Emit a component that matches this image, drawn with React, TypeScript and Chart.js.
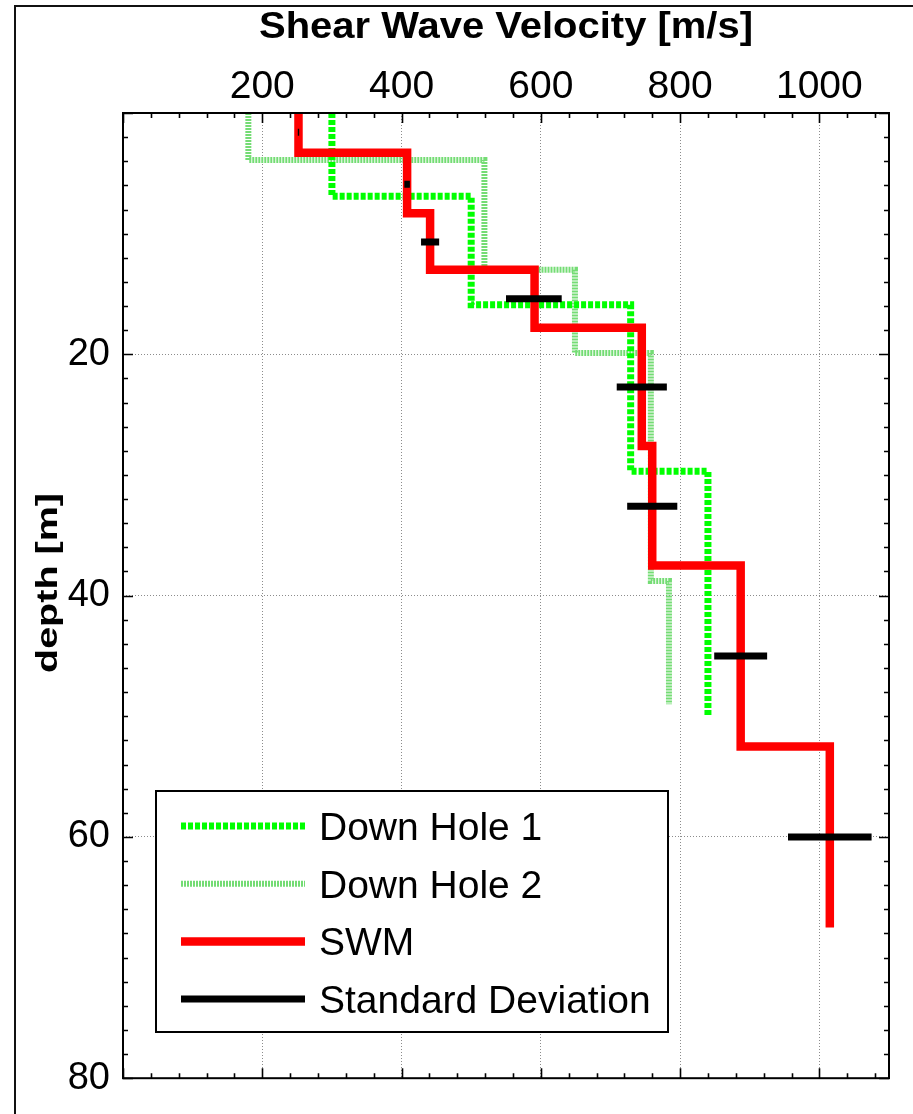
import React, { useEffect, useRef } from "react";
import { Chart, registerables } from "chart.js";

Chart.register(...registerables);

// ---------------- data ----------------
const dh1Velocity = [300, 500, 729, 840];
const dh1Bounds = [0, 6.9, 15.9, 29.7, 50];

const dh2Velocity = [180, 519, 649, 758, 784];
const dh2Bounds = [0, 3.9, 13.0, 19.9, 38.8, 49];

const swmVelocity = [252, 408, 441, 591, 745, 760, 887, 1015];
const swmBounds = [0, 3.3, 8.3, 13.0, 17.8, 27.6, 37.5, 52.5, 67.5];

const sdDepth = [1.6, 5.9, 10.7, 15.4, 22.7, 32.6, 45, 60];
const sdMean = [252, 408, 441, 590, 745, 760, 887, 1015];
const sdDev = [1, 4, 13, 40, 36, 36, 38, 60];

const xTickValues = [200, 400, 600, 800, 1000];
const yTickValues = [20, 40, 60, 80];
const seriesLabels = ["Down Hole 1", "Down Hole 2", "SWM", "Standard Deviation"];
const xTitle = "Shear Wave Velocity [m/s]";
const yTitle = "depth [m]";

const FONT = "'Liberation Sans', Arial, Helvetica, sans-serif";

function steps(vel: number[], bounds: number[]) {
  const pts: { x: number; y: number }[] = [];
  vel.forEach((v, i) => {
    pts.push({ x: v, y: bounds[i] });
    pts.push({ x: v, y: bounds[i + 1] });
  });
  return pts;
}

function sdSegments() {
  const pts: { x: number; y: number | null }[] = [];
  sdDepth.forEach((d, i) => {
    pts.push({ x: sdMean[i] - sdDev[i], y: d });
    pts.push({ x: sdMean[i] + sdDev[i], y: d });
    pts.push({ x: sdMean[i], y: null });
  });
  return pts;
}

// ---------------- plugins ----------------
const decorPlugin = {
  id: "decor",
  afterDatasetsDraw(chart: any) {
    const { ctx, chartArea: a } = chart;
    const xs = chart.scales.x;
    const ys = chart.scales.y;
    ctx.save();
    ctx.strokeStyle = "#000";
    ctx.lineWidth = 1.6;
    ctx.setLineDash([]);
    ctx.beginPath();
    for (let v = 0; v <= 1100; v += 40) {
      const px = Math.round(xs.getPixelForValue(v)) + 0.5;
      const len = v % 200 === 0 ? 10 : 5;
      ctx.moveTo(px, a.top);
      ctx.lineTo(px, a.top + len);
      ctx.moveTo(px, a.bottom);
      ctx.lineTo(px, a.bottom - len);
    }
    for (let v = 0; v <= 80; v += 2) {
      const py = Math.round(ys.getPixelForValue(v)) + 0.5;
      const len = v % 20 === 0 ? 10 : 5;
      ctx.moveTo(a.left, py);
      ctx.lineTo(a.left + len, py);
      ctx.moveTo(a.right, py);
      ctx.lineTo(a.right - len, py);
    }
    ctx.stroke();
    ctx.lineWidth = 2;
    ctx.strokeRect(a.left, a.top, a.right - a.left, a.bottom - a.top);
    ctx.restore();
  },
  afterDraw(chart: any) {
    const { ctx, chartArea: a } = chart;
    ctx.save();
    // figure frame
    ctx.strokeStyle = "#111";
    ctx.lineWidth = 2;
    ctx.beginPath();
    ctx.moveTo(15, chart.height);
    ctx.lineTo(15, 6);
    ctx.lineTo(chart.width, 6);
    ctx.stroke();

    // top title
    ctx.fillStyle = "#000";
    ctx.font = `bold 37px ${FONT}`;
    ctx.textAlign = "center";
    ctx.textBaseline = "alphabetic";
    const tw = ctx.measureText(xTitle).width;
    const sx = 494 / tw;
    ctx.save();
    ctx.translate((a.left + a.right) / 2, 38);
    ctx.scale(sx, 1);
    ctx.fillText(xTitle, 0, 0);
    ctx.restore();

    // y title (rotated, stretched along its length)
    ctx.font = `bold 29px ${FONT}`;
    const yw = ctx.measureText(yTitle).width;
    const sy = 180 / yw;
    ctx.save();
    ctx.translate(57, 583);
    ctx.rotate(-Math.PI / 2);
    ctx.scale(sy, 1);
    ctx.fillText(yTitle, 0, 0);
    ctx.restore();

    // legend box
    const bx = 156, by = 791, bw = 512, bh = 241;
    ctx.fillStyle = "#fff";
    ctx.fillRect(bx, by, bw, bh);
    ctx.strokeStyle = "#000";
    ctx.lineWidth = 2;
    ctx.strokeRect(bx, by, bw, bh);
    chart.data.datasets.forEach((ds: any, i: number) => {
      const y = 826 + i * 57.7;
      ctx.beginPath();
      ctx.setLineDash(ds.borderDash || []);
      ctx.lineDashOffset = 0;
      ctx.lineWidth = ds.borderWidth;
      ctx.strokeStyle = ds.borderColor;
      ctx.lineCap = "butt";
      ctx.moveTo(181, y);
      ctx.lineTo(305, y);
      ctx.stroke();
      ctx.setLineDash([]);
      ctx.fillStyle = "#000";
      ctx.font = `39px ${FONT}`;
      ctx.textAlign = "left";
      ctx.textBaseline = "alphabetic";
      ctx.fillText(ds.label, 319, y + 14);
    });
    ctx.restore();
  },
};

export default function App() {
  const ref = useRef<HTMLCanvasElement | null>(null);

  useEffect(() => {
    if (!ref.current) return;
    const common = {
      showLine: true,
      pointRadius: 0,
      pointHoverRadius: 0,
      fill: false,
      tension: 0,
      borderCapStyle: "butt",
      borderJoinStyle: "miter",
    };
    const chart = new Chart(ref.current, {
      type: "scatter",
      data: {
        datasets: [
          {
            ...common,
            label: seriesLabels[0],
            data: steps(dh1Velocity, dh1Bounds),
            borderColor: "#00ff00",
            borderWidth: 7,
            borderDash: [5, 2],
            order: 2,
          },
          {
            ...common,
            label: seriesLabels[1],
            data: steps(dh2Velocity, dh2Bounds),
            borderColor: "#74dc74",
            borderWidth: 6,
            borderDash: [2, 1],
            order: 3,
          },
          {
            ...common,
            label: seriesLabels[2],
            data: steps(swmVelocity, swmBounds),
            borderColor: "#ff0000",
            borderWidth: 8.5,
            order: 1,
          },
          {
            ...common,
            label: seriesLabels[3],
            data: sdSegments(),
            borderColor: "#000000",
            borderWidth: 7,
            spanGaps: false,
            order: 0,
          },
        ] as any,
      },
      options: {
        responsive: false,
        animation: false,
        events: [],
        layout: { padding: { left: 0, top: 0, right: 24, bottom: 34 } },
        plugins: {
          legend: { display: false },
          title: { display: false },
          tooltip: { enabled: false },
        },
        scales: {
          x: {
            type: "linear",
            position: "top",
            min: 0,
            max: 1100,
            afterBuildTicks: (s: any) => {
              s.ticks = xTickValues.map((v) => ({ value: v }));
            },
            afterFit: (s: any) => {
              s.height = 113;
            },
            ticks: {
              autoSkip: false,
              maxRotation: 0,
              padding: 2,
              color: "#000",
              font: { family: FONT, size: 39 },
              callback: (v: any) => String(v),
            },
            grid: { color: "#8c8c8c", lineWidth: 1, drawTicks: false },
            border: { display: false, dash: [1, 2] },
          },
          y: {
            type: "linear",
            reverse: true,
            min: 0,
            max: 80,
            afterBuildTicks: (s: any) => {
              s.ticks = yTickValues.map((v) => ({ value: v }));
            },
            afterFit: (s: any) => {
              s.width = 123;
            },
            ticks: {
              autoSkip: false,
              padding: 13,
              color: "#000",
              font: { family: FONT, size: 38 },
              callback: (v: any) => String(v),
            },
            grid: { color: "#8c8c8c", lineWidth: 1, drawTicks: false },
            border: { display: false, dash: [1, 2] },
          },
        },
      } as any,
      plugins: [decorPlugin],
    });
    return () => chart.destroy();
  }, []);

  return (
    <div style={{ position: "absolute", left: 0, top: 0, width: 913, height: 1114, background: "#fff" }}>
      <canvas ref={ref} width={913} height={1114} style={{ display: "block" }} />
    </div>
  );
}
